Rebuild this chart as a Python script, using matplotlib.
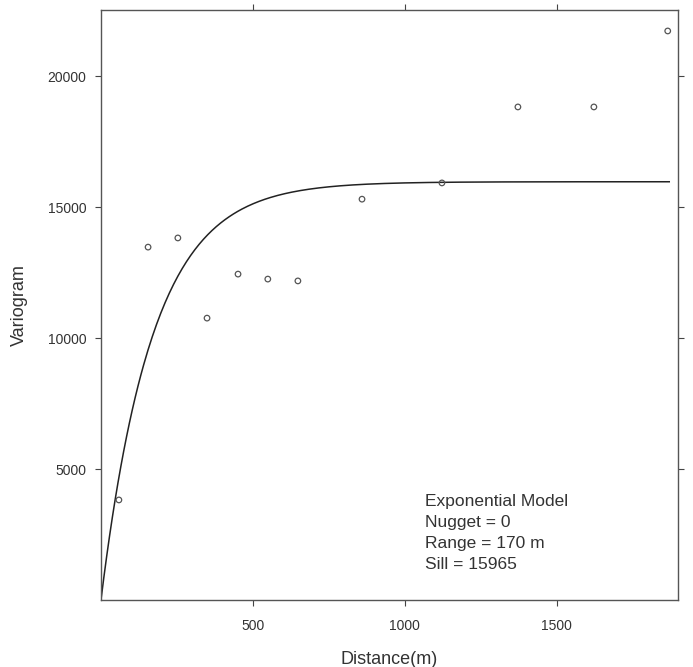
import numpy as np
import matplotlib
matplotlib.use("Agg")
import matplotlib.pyplot as plt

# Empirical variogram points (distance in m, semivariance)
distance = [59, 155, 253, 349, 451, 549, 648, 859, 1122, 1372, 1622, 1865]
gamma = [3820, 13470, 13820, 10760, 12440, 12250, 12180, 15300, 15920, 18820, 18820, 21720]

# Fitted exponential model parameters
nugget = 0
model_range = 170
sill = 15965
model_max_dist = 1870

x_ticks = [500, 1000, 1500]
y_ticks = [5000, 10000, 15000, 20000]

plt.rcParams['font.family'] = ['Liberation Sans', 'DejaVu Sans']

fig = plt.figure(figsize=(6.93, 6.67), dpi=100)
ax = fig.add_axes([0.1457, 0.1004, 0.978 - 0.1457, 0.985 - 0.1004])

h = np.linspace(0, model_max_dist, 400)
model = nugget + (sill - nugget) * (1 - np.exp(-h / model_range))
ax.plot(h, model, color='#222222', lw=1.1)

ax.scatter(distance, gamma, s=16, facecolors='none', edgecolors='#555555', linewidths=0.9, zorder=3)

ax.set_xlim(0, 1898)
ax.set_ylim(0, 22520)
ax.set_xticks(x_ticks)
ax.set_yticks(y_ticks)
ax.tick_params(direction='out', length=4.5, width=0.8, color='#444444',
               labelsize=10, labelcolor='#333333', top=True, right=True,
               labeltop=False, labelright=False)
ax.tick_params(axis='x', pad=9)
ax.tick_params(axis='y', pad=6)
for s in ax.spines.values():
    s.set_color('#555555')
    s.set_linewidth(1.0)

ax.set_xlabel('Distance(m)', fontsize=13, color='#333333', labelpad=13)
ax.set_ylabel('Variogram', fontsize=13, color='#333333', labelpad=14)

ax.text(0.5614, 0.048, 'Exponential Model\nNugget = 0\nRange = 170 m\nSill = 15965',
        transform=ax.transAxes, fontsize=12.5, color='#333333', va='bottom', ha='left',
        linespacing=1.5)

fig.savefig('out.png', dpi=100)
